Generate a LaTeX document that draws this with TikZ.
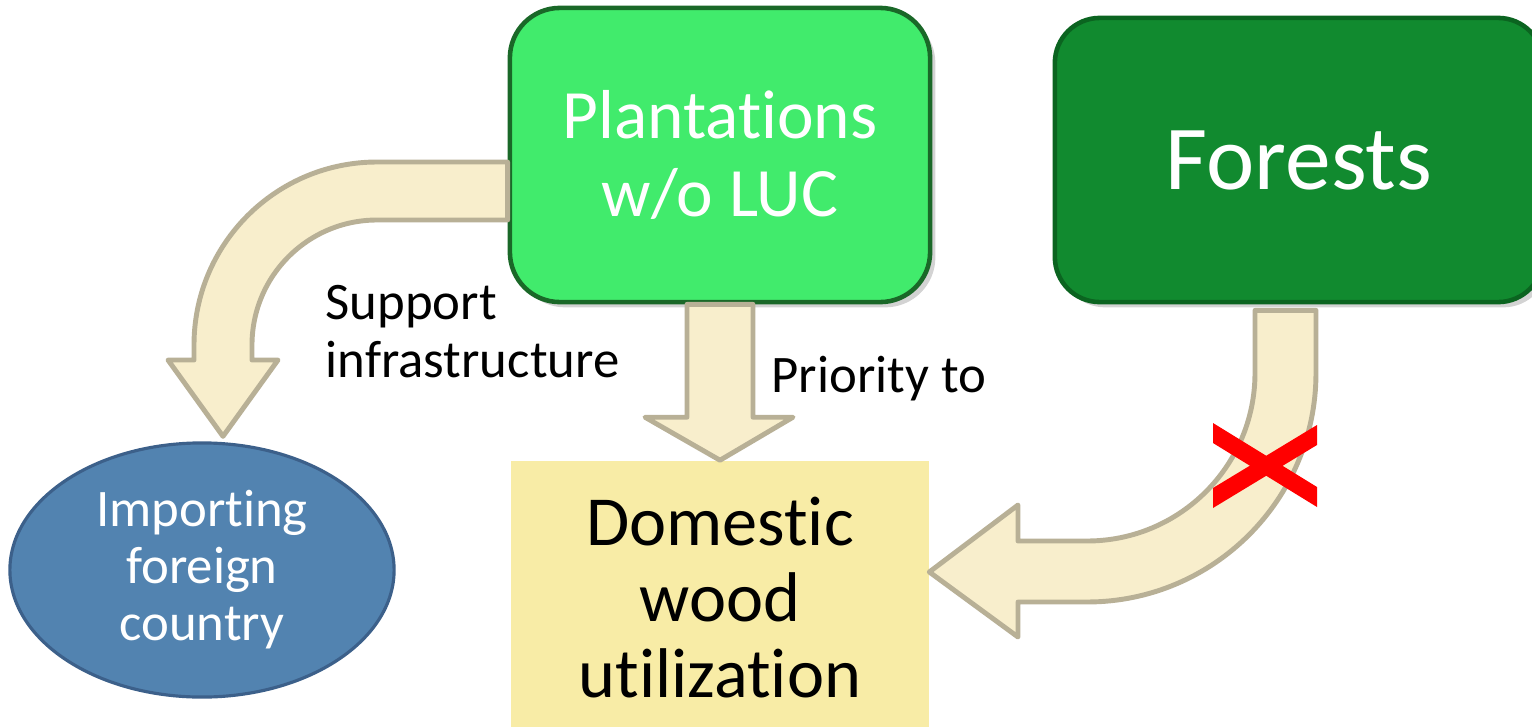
\documentclass[tikz,border=0pt]{standalone}
\usepackage{fontspec}
\setmainfont{Carlito}[Ligatures=NoCommon]
\usetikzlibrary{calc,shadows,shapes.geometric}

\definecolor{plantgreen}{RGB}{65,235,108}
\definecolor{plantedge}{RGB}{26,104,40}
\definecolor{forestgreen}{RGB}{17,138,47}
\definecolor{forestedge}{RGB}{11,100,32}
\definecolor{woodyellow}{RGB}{248,236,166}
\definecolor{countryblue}{RGB}{82,131,176}
\definecolor{countryedge}{RGB}{60,96,138}
\definecolor{arrowfill}{RGB}{248,238,204}
\definecolor{arrowedge}{RGB}{184,176,150}

\begin{document}
\begin{tikzpicture}[x=0.01cm,y=-0.01cm,
  plantation/.style={draw=plantedge,line width=1.3pt,fill=plantgreen,rounded corners=0.5cm,minimum width=4.2cm,minimum height=2.94cm,align=center,text=white,font=\fontsize{19.7}{22}\selectfont,drop shadow={shadow xshift=1.5pt,shadow yshift=-1.5pt,opacity=0.35}},
  forest/.style={draw=forestedge,line width=1.3pt,fill=forestgreen,rounded corners=0.45cm,minimum width=4.88cm,minimum height=2.84cm,text=white,font=\fontsize{26}{30}\selectfont,drop shadow={shadow xshift=1.5pt,shadow yshift=-1.5pt,opacity=0.35}},
  wood/.style={fill=woodyellow,minimum width=4.17cm,minimum height=2.74cm,align=center,font=\fontsize{20}{21.6}\selectfont},
  country/.style={ellipse,draw=countryedge,line width=0.9pt,fill=countryblue,minimum width=3.84cm,minimum height=2.54cm,inner sep=0pt,align=center,text=white,font=\fontsize{15}{16.2}\selectfont},
  note/.style={inner sep=0pt,align=left,font=\fontsize{15}{16.5}\selectfont},
  bigarrow/.style={draw=arrowedge,line width=1.4pt,fill=arrowfill,line join=round}]
  \clip (0,0) rectangle (1532,727);

  \node[plantation] (plant) at (720,155) {Plantations\\w/o LUC};
  \node[forest] (forest) at (1299,160) {Forests};
  \node[wood] (domestic) at (720,598) {Domestic\\wood\\utilization};
  \node[country] (import) at (202,570) {Importing\\foreign\\country};

  \node[note,anchor=north west] (support) at (325,285) {Support\\infrastructure};
  \node[note,anchor=north west] (priority) at (771,355) {Priority to};

  \draw[bigarrow] ($(plant.west)+(0,7)$) -- (377,162) arc[start angle=270,end angle=180,radius=183]
    -- (194,360) -- (168,360) -- ($(import.north)+(21,-5)$) -- (278,360) -- (252,360) -- (252,345)
    arc[start angle=180,end angle=270,radius=125] -- ($(plant.west)+(0,65)$) -- cycle;

  \draw[bigarrow] ($(plant.south)+(-33,0)$) -- ($(domestic.north)+(-33,-43)$) -- ($(domestic.north)+(-75,-43)$)
    -- (domestic.north) -- ($(domestic.north)+(73,-43)$) -- ($(domestic.north)+(33,-43)$) -- ($(plant.south)+(33,0)$) -- cycle;

  \draw[bigarrow] ($(forest.south)+(-44,6)$) -- (1255,373) arc[start angle=0,end angle=90,radius=168]
    -- (1018,541) -- (1018,505) -- ($(domestic.east)+(0,-26)$) -- (1018,637) -- (1018,602) -- (1087,602)
    arc[start angle=90,end angle=0,radius=229] -- ($(forest.south)+(17,6)$) -- cycle;

  \fill[red] (1213,423) -- (1317,487) -- (1317,507) -- (1213,443) -- cycle;
  \fill[red] (1213,488) -- (1317,425) -- (1317,445) -- (1213,508) -- cycle;
\end{tikzpicture}
\end{document}
